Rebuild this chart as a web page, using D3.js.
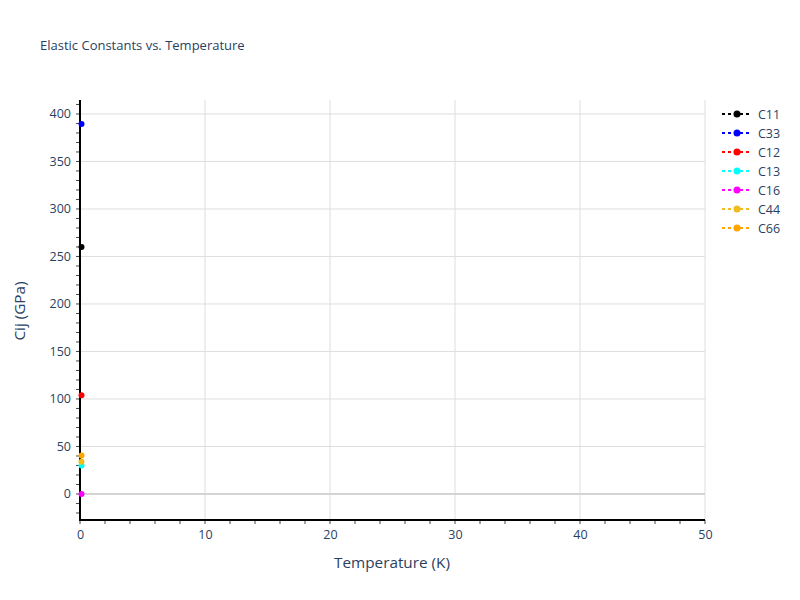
<!DOCTYPE html>
<html><head><meta charset="utf-8">
<script src="https://cdn.jsdelivr.net/npm/d3@7"></script>
<style>body{margin:0;background:#fff;} text{font-family:"Open Sans",sans-serif;}</style>
</head><body><svg id="c" width="800" height="600"></svg>
<script>
const temperatures = [0];
const seriesNames = ["C11","C33","C12","C13","C16","C44","C66"];
const seriesColors = ["black","blue","red","cyan","magenta","#f0bc1c","orange"];
const C11 = [260];
const C33 = [389.5];
const C12 = [104];
const C13 = [30];
const C16 = [0];
const C44 = [34];
const C66 = [40.5];
const seriesValues = [C11,C33,C12,C13,C16,C44,C66];
const xTicks = [0,10,20,30,40,50];
const yTicks = [0,50,100,150,200,250,300,350,400];

const svg = d3.select("#c");
const m = {l:80, r:705, t:100, b:520};
const x = d3.scaleLinear().domain([0,50]).range([m.l,m.r]);
const y = d3.scaleLinear().domain([-27.4,414.7]).range([m.b,m.t]);

// grid
svg.append("g").selectAll("line").data(xTicks.filter(d=>d>0)).join("line")
  .attr("x1",d=>x(d)).attr("x2",d=>x(d)).attr("y1",m.t).attr("y2",m.b)
  .attr("stroke","#dedede").attr("stroke-width",1);
svg.append("g").selectAll("line").data(yTicks.filter(d=>d!==0)).join("line")
  .attr("x1",m.l).attr("x2",m.r).attr("y1",d=>y(d)).attr("y2",d=>y(d))
  .attr("stroke","#dedede").attr("stroke-width",1);
// zero line
svg.append("line").attr("x1",m.l).attr("x2",m.r).attr("y1",y(0)).attr("y2",y(0))
  .attr("stroke","#d4d4d4").attr("stroke-width",2);

// axes
const xAxis = d3.axisBottom(x).tickValues(xTicks).tickSize(0).tickPadding(10);
const gx = svg.append("g").attr("transform",`translate(0,${m.b})`).call(xAxis);
gx.select(".domain").remove();
gx.selectAll("text").attr("font-size",12.5).attr("fill","#2a3f5f").attr("font-family","Open Sans");
const xMinor = d3.range(0,51,2);
svg.append("g").selectAll("line").data(xMinor).join("line")
  .attr("x1",d=>x(d)).attr("x2",d=>x(d)).attr("y1",m.b).attr("y2",m.b+4)
  .attr("stroke","#444").attr("stroke-width",1);

const yAxis = d3.axisLeft(y).tickValues(yTicks).tickSize(0).tickPadding(9);
const gy = svg.append("g").attr("transform",`translate(${m.l},0)`).call(yAxis);
gy.select(".domain").remove();
gy.selectAll("text").attr("font-size",12.5).attr("fill","#2a3f5f").attr("font-family","Open Sans");
const yMinor = d3.range(-20,411,10);
svg.append("g").selectAll("line").data(yMinor).join("line")
  .attr("x1",m.l-4).attr("x2",m.l).attr("y1",d=>y(d)).attr("y2",d=>y(d))
  .attr("stroke","#444").attr("stroke-width",1);

svg.append("line").attr("x1",m.l).attr("x2",m.r).attr("y1",m.b).attr("y2",m.b).attr("stroke","black").attr("stroke-width",2);
svg.append("line").attr("x1",m.l).attr("x2",m.l).attr("y1",m.t).attr("y2",m.b+1).attr("stroke","black").attr("stroke-width",2);

// series
seriesNames.forEach((n,i)=>{
  const g = svg.append("g");
  const line = d3.line().x(d=>x(d[0])).y(d=>y(d[1]));
  const pts = temperatures.map((t,j)=>[t,seriesValues[i][j]]);
  g.append("path").attr("d",line(pts)).attr("fill","none").attr("stroke",seriesColors[i]).attr("stroke-width",2).attr("stroke-dasharray","2,3");
  g.selectAll("circle").data(pts).join("circle").attr("cx",d=>x(d[0])+1.5).attr("cy",d=>y(d[1])).attr("r",3).attr("fill",seriesColors[i]);
});

// legend
const lg = svg.append("g");
seriesNames.forEach((n,i)=>{
  const yy = 114 + i*19;
  lg.append("line").attr("x1",722).attr("x2",752).attr("y1",yy).attr("y2",yy)
    .attr("stroke",seriesColors[i]).attr("stroke-width",2).attr("stroke-dasharray","3,3");
  lg.append("circle").attr("cx",737).attr("cy",yy).attr("r",3.5).attr("fill",seriesColors[i]);
  lg.append("text").attr("x",758).attr("y",yy+4.5).text(n).attr("font-size",12.5).attr("fill","#2a3f5f");
});

// titles
svg.append("text").attr("x",40).attr("y",50).text("Elastic Constants vs. Temperature")
  .attr("font-size",13).attr("fill","#2a3f5f");
svg.append("text").attr("x",392).attr("y",568).attr("text-anchor","middle").text("Temperature (K)")
  .attr("font-size",15.3).attr("fill","#2a3f5f");
svg.append("text").attr("transform","translate(25,311) rotate(-90)").attr("text-anchor","middle").text("Cij (GPa)")
  .attr("font-size",15.3).attr("fill","#2a3f5f");
</script></body></html>
